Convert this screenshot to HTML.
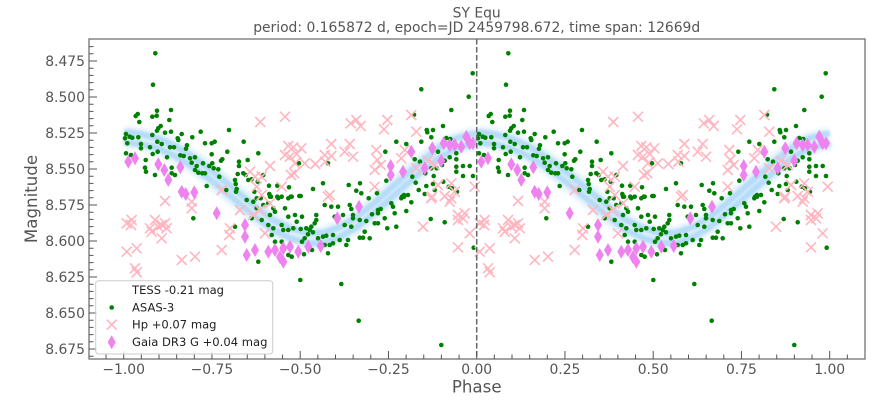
<!DOCTYPE html>
<html><head><meta charset="utf-8"><style>html,body{margin:0;padding:0;background:#fff}svg{display:block}</style></head><body>
<svg width="889" height="406" viewBox="0 0 889 406" xmlns="http://www.w3.org/2000/svg" font-family="'DejaVu Sans','Liberation Sans',sans-serif">
<defs>
<filter id="b1" x="-10%" y="-20%" width="120%" height="140%"><feGaussianBlur stdDeviation="2.2"/></filter>
<filter id="b2" x="-10%" y="-20%" width="120%" height="140%"><feGaussianBlur stdDeviation="1.1"/></filter>
<path id="c" d="M-5-5l10 10m0-10l-10 10" fill="none" stroke="#ffb6c1" stroke-width="1.6"/>
<path id="dm" d="M0-7l4 7-4 7-4-7z" fill="#ee82ee"/>
<g id="L">
 <g fill="none" stroke-linejoin="round">
  <polyline filter="url(#b1)" stroke="#d3eafb" stroke-opacity="0.7" stroke-width="22" points="124,137 140,139 157,143 175,151 190,160 207,172 223,185 240,199 257,213 273,225 290,233 307,238 323,238 340,232 357,222 373,209 390,194 407,179 423,165 440,152 457,143 477,138"/>
  <polyline filter="url(#b2)" transform="translate(0,-5)" stroke="#a3d3f6" stroke-opacity="0.7" stroke-width="6" points="124,137 140,139 157,143 175,151 190,160 207,172 223,185 240,199 257,213 273,225 290,233 307,238 323,238 340,232 357,222 373,209 390,194 407,179 423,165 440,152 457,143 477,138"/>
  <polyline filter="url(#b2)" transform="translate(0,5)" stroke="#a3d3f6" stroke-opacity="0.7" stroke-width="6" points="124,137 140,139 157,143 175,151 190,160 207,172 223,185 240,199 257,213 273,225 290,233 307,238 323,238 340,232 357,222 373,209 390,194 407,179 423,165 440,152 457,143 477,138"/>
 </g>
 <g fill="#008000">
  <circle cx="155.3" cy="53.3" r="2.3"/><circle cx="153" cy="84.7" r="2.3"/><circle cx="137.7" cy="114" r="2.3"/><circle cx="135.7" cy="116" r="2.3"/><circle cx="139.3" cy="122" r="2.3"/><circle cx="157" cy="110.7" r="2.3"/><circle cx="152.3" cy="116.7" r="2.3"/><circle cx="156.7" cy="115.7" r="2.3"/><circle cx="171" cy="110" r="2.3"/><circle cx="169.3" cy="120" r="2.3"/><circle cx="160.7" cy="126" r="2.3"/><circle cx="158.3" cy="128.3" r="2.3"/><circle cx="157" cy="130.7" r="2.3"/><circle cx="165" cy="132.7" r="2.3"/><circle cx="171" cy="131.7" r="2.3"/><circle cx="152.3" cy="135" r="2.3"/><circle cx="126" cy="134" r="2.3"/><circle cx="129.7" cy="136.7" r="2.3"/><circle cx="125" cy="138.3" r="2.3"/><circle cx="132.3" cy="137.7" r="2.3"/><circle cx="138.3" cy="137.3" r="2.3"/><circle cx="127.3" cy="143.3" r="2.3"/><circle cx="141" cy="144" r="2.3"/><circle cx="141" cy="148.3" r="2.3"/><circle cx="150" cy="147.3" r="2.3"/><circle cx="157.3" cy="141.7" r="2.3"/><circle cx="161.7" cy="144" r="2.3"/><circle cx="157.7" cy="151.7" r="2.3"/><circle cx="152.7" cy="154" r="2.3"/><circle cx="170" cy="147.3" r="2.3"/><circle cx="174" cy="147.3" r="2.3"/><circle cx="177.7" cy="138.3" r="2.3"/><circle cx="178.3" cy="140" r="2.3"/><circle cx="181.7" cy="134" r="2.3"/><circle cx="192.3" cy="137.3" r="2.3"/><circle cx="200.7" cy="131.7" r="2.3"/><circle cx="229" cy="130" r="2.3"/><circle cx="205" cy="143.3" r="2.3"/><circle cx="211.7" cy="143.3" r="2.3"/><circle cx="214.7" cy="141.7" r="2.3"/><circle cx="187" cy="145.3" r="2.3"/><circle cx="186" cy="148.7" r="2.3"/><circle cx="126" cy="153.3" r="2.3"/><circle cx="131" cy="155" r="2.3"/><circle cx="167" cy="157.3" r="2.3"/><circle cx="145.7" cy="160" r="2.3"/><circle cx="145" cy="167.7" r="2.3"/><circle cx="146" cy="171.7" r="2.3"/><circle cx="155" cy="175" r="2.3"/><circle cx="171.7" cy="167.7" r="2.3"/><circle cx="171.7" cy="173.3" r="2.3"/><circle cx="175" cy="175" r="2.3"/><circle cx="180.3" cy="155.3" r="2.3"/><circle cx="183.7" cy="156" r="2.3"/><circle cx="190" cy="158.3" r="2.3"/><circle cx="191.7" cy="162.7" r="2.3"/><circle cx="195" cy="157.3" r="2.3"/><circle cx="203" cy="163.3" r="2.3"/><circle cx="196.7" cy="166" r="2.3"/><circle cx="195" cy="170" r="2.3"/><circle cx="198.3" cy="172.7" r="2.3"/><circle cx="202.3" cy="173.3" r="2.3"/><circle cx="205" cy="173.3" r="2.3"/><circle cx="211.7" cy="154.3" r="2.3"/><circle cx="212.3" cy="163.3" r="2.3"/><circle cx="209.3" cy="166" r="2.3"/><circle cx="213.7" cy="168.3" r="2.3"/><circle cx="222.3" cy="159.3" r="2.3"/><circle cx="221" cy="160.7" r="2.3"/><circle cx="218.3" cy="169.3" r="2.3"/><circle cx="219.3" cy="176.7" r="2.3"/><circle cx="227.3" cy="151.7" r="2.3"/><circle cx="243.7" cy="141.7" r="2.3"/><circle cx="258.3" cy="153.3" r="2.3"/><circle cx="247.7" cy="160" r="2.3"/><circle cx="239" cy="161.7" r="2.3"/><circle cx="239" cy="166" r="2.3"/><circle cx="237.7" cy="174" r="2.3"/><circle cx="243.3" cy="173.3" r="2.3"/><circle cx="245.7" cy="175" r="2.3"/><circle cx="206.7" cy="186" r="2.3"/><circle cx="226.3" cy="190" r="2.3"/><circle cx="235" cy="180" r="2.3"/><circle cx="235.7" cy="184" r="2.3"/><circle cx="236.7" cy="189" r="2.3"/><circle cx="236" cy="191.7" r="2.3"/><circle cx="257.7" cy="181.7" r="2.3"/><circle cx="263.3" cy="175" r="2.3"/><circle cx="269" cy="185.7" r="2.3"/><circle cx="277.3" cy="185.7" r="2.3"/><circle cx="269.3" cy="194" r="2.3"/><circle cx="271" cy="196.7" r="2.3"/><circle cx="277.3" cy="196.7" r="2.3"/><circle cx="281.7" cy="196.7" r="2.3"/><circle cx="289" cy="187.3" r="2.3"/><circle cx="290.7" cy="196.7" r="2.3"/><circle cx="299.3" cy="196" r="2.3"/><circle cx="254.3" cy="191.7" r="2.3"/><circle cx="256.7" cy="198.3" r="2.3"/><circle cx="260.7" cy="198.3" r="2.3"/><circle cx="248.3" cy="180" r="2.3"/><circle cx="251.7" cy="179.3" r="2.3"/>
  <circle cx="472.7" cy="73.3" r="2.3"/><circle cx="468.7" cy="96.7" r="2.3"/><circle cx="421.3" cy="89.3" r="2.3"/><circle cx="451.3" cy="110" r="2.3"/><circle cx="414" cy="114.7" r="2.3"/><circle cx="426.7" cy="130" r="2.3"/><circle cx="427.3" cy="132.3" r="2.3"/><circle cx="433" cy="130" r="2.3"/><circle cx="431.3" cy="137.3" r="2.3"/><circle cx="443" cy="126" r="2.3"/><circle cx="446.3" cy="138" r="2.3"/><circle cx="450.3" cy="139" r="2.3"/><circle cx="396.3" cy="141.7" r="2.3"/><circle cx="406.3" cy="144" r="2.3"/><circle cx="421.3" cy="141.7" r="2.3"/><circle cx="385.3" cy="151.7" r="2.3"/><circle cx="414.7" cy="159.3" r="2.3"/><circle cx="420" cy="161.7" r="2.3"/><circle cx="438" cy="151.7" r="2.3"/><circle cx="449.7" cy="157.3" r="2.3"/><circle cx="456.3" cy="153.3" r="2.3"/><circle cx="456.3" cy="159.3" r="2.3"/><circle cx="444.7" cy="160.7" r="2.3"/><circle cx="442" cy="165" r="2.3"/><circle cx="431.3" cy="168.3" r="2.3"/><circle cx="436.7" cy="168.3" r="2.3"/><circle cx="433.7" cy="176" r="2.3"/><circle cx="425.3" cy="173.3" r="2.3"/><circle cx="412.3" cy="176.7" r="2.3"/><circle cx="415.7" cy="182.7" r="2.3"/><circle cx="426.3" cy="186" r="2.3"/><circle cx="433" cy="184" r="2.3"/><circle cx="443.3" cy="181.7" r="2.3"/><circle cx="448.7" cy="186.7" r="2.3"/><circle cx="456.3" cy="166.7" r="2.3"/><circle cx="456.3" cy="171.7" r="2.3"/><circle cx="463" cy="166" r="2.3"/><circle cx="469.7" cy="166" r="2.3"/><circle cx="463" cy="176" r="2.3"/><circle cx="473" cy="176" r="2.3"/><circle cx="418.7" cy="190" r="2.3"/><circle cx="424.7" cy="194" r="2.3"/><circle cx="434.7" cy="190" r="2.3"/><circle cx="452" cy="188.3" r="2.3"/><circle cx="457" cy="191.7" r="2.3"/><circle cx="386.3" cy="180.7" r="2.3"/><circle cx="323" cy="183.3" r="2.3"/><circle cx="313" cy="189" r="2.3"/><circle cx="348.7" cy="185" r="2.3"/><circle cx="360" cy="183.3" r="2.3"/><circle cx="356.3" cy="190.7" r="2.3"/><circle cx="361.3" cy="193.3" r="2.3"/><circle cx="368.7" cy="198.3" r="2.3"/><circle cx="377" cy="193.3" r="2.3"/><circle cx="404" cy="195" r="2.3"/><circle cx="408" cy="195" r="2.3"/><circle cx="402" cy="196.7" r="2.3"/><circle cx="300.7" cy="196" r="2.3"/><circle cx="299" cy="163.3" r="2.3"/><circle cx="328" cy="163.3" r="2.3"/>
  <circle cx="193.3" cy="218.3" r="2.3"/><circle cx="235" cy="226.7" r="2.3"/><circle cx="246.7" cy="200" r="2.3"/><circle cx="253.3" cy="201.7" r="2.3"/><circle cx="256.7" cy="208.3" r="2.3"/><circle cx="263.3" cy="205" r="2.3"/><circle cx="268.3" cy="203.3" r="2.3"/><circle cx="270" cy="196.7" r="2.3"/><circle cx="278.3" cy="198.3" r="2.3"/><circle cx="288.3" cy="198.3" r="2.3"/><circle cx="291.7" cy="196.7" r="2.3"/><circle cx="251.7" cy="218.3" r="2.3"/><circle cx="261.7" cy="220" r="2.3"/><circle cx="270" cy="215" r="2.3"/><circle cx="273.3" cy="208.3" r="2.3"/><circle cx="275" cy="211.7" r="2.3"/><circle cx="285" cy="208.3" r="2.3"/><circle cx="288.3" cy="216.7" r="2.3"/><circle cx="295" cy="215" r="2.3"/><circle cx="268.3" cy="225" r="2.3"/><circle cx="273.3" cy="228.3" r="2.3"/><circle cx="281.7" cy="225" r="2.3"/><circle cx="283.3" cy="230" r="2.3"/><circle cx="288.3" cy="230" r="2.3"/><circle cx="293.3" cy="228.3" r="2.3"/><circle cx="296.7" cy="221.7" r="2.3"/><circle cx="271.7" cy="235" r="2.3"/><circle cx="275" cy="241.7" r="2.3"/><circle cx="281.7" cy="241.7" r="2.3"/><circle cx="288.3" cy="255" r="2.3"/><circle cx="291.7" cy="256.7" r="2.3"/><circle cx="258.3" cy="261.7" r="2.3"/><circle cx="300.3" cy="280" r="2.3"/>
  <circle cx="302" cy="216.7" r="2.3"/><circle cx="316.3" cy="215" r="2.3"/><circle cx="316.3" cy="220" r="2.3"/><circle cx="314.7" cy="223.3" r="2.3"/><circle cx="300.7" cy="229" r="2.3"/><circle cx="306.3" cy="228.3" r="2.3"/><circle cx="311.3" cy="226.7" r="2.3"/><circle cx="309.7" cy="230" r="2.3"/><circle cx="313" cy="232.3" r="2.3"/><circle cx="308" cy="234.3" r="2.3"/><circle cx="304.7" cy="238.3" r="2.3"/><circle cx="302" cy="241.7" r="2.3"/><circle cx="318" cy="238.3" r="2.3"/><circle cx="323" cy="236.7" r="2.3"/><circle cx="326.3" cy="235.7" r="2.3"/><circle cx="324.7" cy="245" r="2.3"/><circle cx="329.7" cy="245" r="2.3"/><circle cx="333" cy="235" r="2.3"/><circle cx="333" cy="243.3" r="2.3"/><circle cx="328" cy="253.3" r="2.3"/><circle cx="312" cy="250" r="2.3"/><circle cx="304" cy="254.3" r="2.3"/><circle cx="324.7" cy="205" r="2.3"/><circle cx="331.3" cy="206.7" r="2.3"/><circle cx="338" cy="206.7" r="2.3"/><circle cx="334.7" cy="216.7" r="2.3"/><circle cx="343" cy="215" r="2.3"/><circle cx="344.7" cy="225" r="2.3"/><circle cx="351.3" cy="226.7" r="2.3"/><circle cx="339.7" cy="240" r="2.3"/><circle cx="348" cy="240" r="2.3"/><circle cx="346.3" cy="245" r="2.3"/><circle cx="349.7" cy="205" r="2.3"/><circle cx="351.3" cy="209" r="2.3"/><circle cx="353" cy="215" r="2.3"/><circle cx="353" cy="218.3" r="2.3"/><circle cx="359.7" cy="220" r="2.3"/><circle cx="366.3" cy="221" r="2.3"/><circle cx="374.7" cy="223.3" r="2.3"/><circle cx="378" cy="223.3" r="2.3"/><circle cx="372" cy="214.3" r="2.3"/><circle cx="378" cy="210" r="2.3"/><circle cx="378" cy="213.3" r="2.3"/><circle cx="380.7" cy="209" r="2.3"/><circle cx="364.7" cy="231.7" r="2.3"/><circle cx="359.7" cy="237.7" r="2.3"/><circle cx="363" cy="237.7" r="2.3"/><circle cx="369.7" cy="238.3" r="2.3"/><circle cx="384.7" cy="218.3" r="2.3"/><circle cx="387.3" cy="228.3" r="2.3"/><circle cx="396.3" cy="226.7" r="2.3"/><circle cx="394.7" cy="213.3" r="2.3"/><circle cx="393" cy="206.7" r="2.3"/><circle cx="391.3" cy="203.3" r="2.3"/><circle cx="401.3" cy="198.3" r="2.3"/><circle cx="404" cy="196.7" r="2.3"/><circle cx="411.3" cy="202.3" r="2.3"/><circle cx="406.3" cy="211" r="2.3"/><circle cx="430.7" cy="219" r="2.3"/><circle cx="444.7" cy="222.3" r="2.3"/><circle cx="473.7" cy="247.7" r="2.3"/><circle cx="341.3" cy="284" r="2.3"/><circle cx="358.7" cy="320.7" r="2.3"/><circle cx="441.3" cy="345" r="2.3"/>
 </g>
 <g>
  <use href="#c" x="260.3" y="122"/><use href="#c" x="285" y="116.7"/><use href="#c" x="288.3" y="146"/><use href="#c" x="293.3" y="147.3"/><use href="#c" x="285" y="155"/><use href="#c" x="290" y="156.7"/><use href="#c" x="296.7" y="154"/><use href="#c" x="295" y="163.3"/><use href="#c" x="291" y="175"/><use href="#c" x="294.3" y="173.3"/><use href="#c" x="250" y="171.7"/><use href="#c" x="270" y="166"/><use href="#c" x="255" y="176.7"/><use href="#c" x="261.7" y="176.7"/><use href="#c" x="281.7" y="186.7"/><use href="#c" x="256.7" y="186.7"/><use href="#c" x="221.7" y="190"/><use href="#c" x="261.7" y="195"/><use href="#c" x="165" y="201"/>
  <use href="#c" x="350.7" y="123.3"/><use href="#c" x="356.3" y="120"/><use href="#c" x="360.7" y="126"/><use href="#c" x="387.3" y="120"/><use href="#c" x="384" y="129.3"/><use href="#c" x="411.3" y="115"/><use href="#c" x="416.3" y="131.7"/><use href="#c" x="301.3" y="148.3"/><use href="#c" x="331.3" y="144"/><use href="#c" x="324.7" y="155"/><use href="#c" x="331.3" y="156"/><use href="#c" x="315.3" y="164"/><use href="#c" x="325.3" y="161.7"/><use href="#c" x="344.7" y="151.7"/><use href="#c" x="349.7" y="144"/><use href="#c" x="353" y="156.7"/><use href="#c" x="376.3" y="150"/><use href="#c" x="377.3" y="160"/><use href="#c" x="374.7" y="170"/><use href="#c" x="380.7" y="165"/><use href="#c" x="404.7" y="150"/><use href="#c" x="401.3" y="158.3"/><use href="#c" x="416.3" y="168.3"/><use href="#c" x="428" y="160.7"/><use href="#c" x="434.7" y="165"/><use href="#c" x="374.7" y="186.7"/><use href="#c" x="329.7" y="195"/><use href="#c" x="438" y="185"/><use href="#c" x="451.3" y="183.3"/><use href="#c" x="454.7" y="191.7"/><use href="#c" x="432" y="196.7"/><use href="#c" x="444.7" y="196"/><use href="#c" x="474.7" y="186.7"/><use href="#c" x="304.7" y="163.3"/>
  <use href="#c" x="191.7" y="201.7"/><use href="#c" x="191.7" y="208.3"/><use href="#c" x="126.7" y="223.3"/><use href="#c" x="131.7" y="220"/><use href="#c" x="131" y="225"/><use href="#c" x="150" y="228.3"/><use href="#c" x="155" y="220"/><use href="#c" x="158.3" y="226.7"/><use href="#c" x="161.7" y="225"/><use href="#c" x="165" y="223.3"/><use href="#c" x="166.7" y="228.3"/><use href="#c" x="161.7" y="238.3"/><use href="#c" x="151.7" y="231.7"/><use href="#c" x="126.7" y="251.7"/><use href="#c" x="136.7" y="248.3"/><use href="#c" x="135" y="268.3"/><use href="#c" x="136.7" y="272.3"/><use href="#c" x="181.7" y="260"/><use href="#c" x="195" y="256.7"/><use href="#c" x="221.7" y="250"/><use href="#c" x="229.3" y="235"/><use href="#c" x="230" y="228.3"/><use href="#c" x="240" y="210"/><use href="#c" x="253.3" y="215"/><use href="#c" x="260" y="210"/><use href="#c" x="270" y="203.3"/><use href="#c" x="265" y="233.3"/><use href="#c" x="423" y="226.7"/><use href="#c" x="431.3" y="198.3"/><use href="#c" x="449.7" y="201.7"/><use href="#c" x="451.3" y="198.3"/><use href="#c" x="458" y="215"/><use href="#c" x="463" y="218.3"/><use href="#c" x="464.7" y="213.3"/><use href="#c" x="458" y="220"/><use href="#c" x="469.7" y="233.3"/><use href="#c" x="458" y="247.3"/><use href="#c" x="328" y="196.7"/>
 </g>
 <g>
  <use href="#dm" x="128.3" y="161.7"/><use href="#dm" x="135" y="158.3"/><use href="#dm" x="158.3" y="164.3"/><use href="#dm" x="164.3" y="170"/><use href="#dm" x="168.3" y="180"/><use href="#dm" x="180.3" y="167.3"/><use href="#dm" x="181.7" y="191.7"/><use href="#dm" x="185.7" y="194"/><use href="#dm" x="194.3" y="192.3"/><use href="#dm" x="216.7" y="213.3"/><use href="#dm" x="245" y="225"/><use href="#dm" x="245" y="236.7"/>
  <use href="#dm" x="246.7" y="255"/><use href="#dm" x="255" y="250"/><use href="#dm" x="268.3" y="251.7"/><use href="#dm" x="275" y="250"/><use href="#dm" x="280" y="257"/><use href="#dm" x="283.3" y="261.7"/><use href="#dm" x="283.3" y="248.3"/><use href="#dm" x="290" y="246.7"/><use href="#dm" x="298.3" y="251.7"/><use href="#dm" x="308.3" y="246.7"/><use href="#dm" x="320.7" y="246"/><use href="#dm" x="337.3" y="218.3"/><use href="#dm" x="359" y="206.7"/>
  <use href="#dm" x="390.7" y="166"/><use href="#dm" x="390.7" y="175"/><use href="#dm" x="403" y="171.7"/><use href="#dm" x="411.3" y="151.7"/><use href="#dm" x="424.7" y="168.3"/><use href="#dm" x="432.3" y="148.3"/><use href="#dm" x="441.3" y="160.7"/><use href="#dm" x="443.7" y="143.3"/><use href="#dm" x="449.7" y="145"/><use href="#dm" x="454.7" y="145"/><use href="#dm" x="461.3" y="146.7"/><use href="#dm" x="466.3" y="136.7"/><use href="#dm" x="469.7" y="143.3"/><use href="#dm" x="473" y="143.3"/>
 </g>
</g>
</defs>
<rect width="889" height="406" fill="#fff"/>
<use href="#L"/>
<use href="#L" transform="translate(353,0)"/>
<line x1="476.7" y1="39" x2="476.7" y2="359" stroke="#666" stroke-width="1.5" stroke-dasharray="5.5,2.5"/>
<rect x="89" y="39" width="776" height="320" fill="none" stroke="#666" stroke-width="1.2"/>
<g stroke="#555" stroke-width="1">
 <path d="M89 61h8M89 97h8M89 133h8M89 169h8M89 205h8M89 241h8M89 277h8M89 313h8M89 349h8"/>
 <path d="M89 46.6h4.5M89 53.8h4.5M89 68.2h4.5M89 75.4h4.5M89 82.6h4.5M89 89.8h4.5M89 104.2h4.5M89 111.4h4.5M89 118.6h4.5M89 125.8h4.5M89 140.2h4.5M89 147.4h4.5M89 154.6h4.5M89 161.8h4.5M89 176.2h4.5M89 183.4h4.5M89 190.6h4.5M89 197.8h4.5M89 212.2h4.5M89 219.4h4.5M89 226.6h4.5M89 233.8h4.5M89 248.2h4.5M89 255.4h4.5M89 262.6h4.5M89 269.8h4.5M89 284.2h4.5M89 291.4h4.5M89 298.6h4.5M89 305.8h4.5M89 320.2h4.5M89 327.4h4.5M89 334.6h4.5M89 341.8h4.5M89 356.2h4.5"/>
 <path d="M123.7 359v-8M211.95 359v-8M300.2 359v-8M388.45 359v-8M476.7 359v-8M564.95 359v-8M653.2 359v-8M741.45 359v-8M829.7 359v-8"/>
 <path d="M106.05 359v-4.5M141.35 359v-4.5M159 359v-4.5M176.65 359v-4.5M194.3 359v-4.5M229.6 359v-4.5M247.25 359v-4.5M264.9 359v-4.5M282.55 359v-4.5M317.85 359v-4.5M335.5 359v-4.5M353.15 359v-4.5M370.8 359v-4.5M406.1 359v-4.5M423.75 359v-4.5M441.4 359v-4.5M459.05 359v-4.5M494.35 359v-4.5M512 359v-4.5M529.65 359v-4.5M547.3 359v-4.5M582.6 359v-4.5M600.25 359v-4.5M617.9 359v-4.5M635.55 359v-4.5M670.85 359v-4.5M688.5 359v-4.5M706.15 359v-4.5M723.8 359v-4.5M759.1 359v-4.5M776.75 359v-4.5M794.4 359v-4.5M812.05 359v-4.5M847.35 359v-4.5"/>
</g>
<g fill="#555" font-size="13.9" text-anchor="end">
 <text x="85" y="66">8.475</text><text x="85" y="102">8.500</text><text x="85" y="138">8.525</text><text x="85" y="174">8.550</text><text x="85" y="210">8.575</text><text x="85" y="246">8.600</text><text x="85" y="282">8.625</text><text x="85" y="318">8.650</text><text x="85" y="354">8.675</text>
</g>
<g fill="#555" font-size="13.9" text-anchor="middle">
 <text x="123.7" y="374">−1.00</text><text x="211.95" y="374">−0.75</text><text x="300.2" y="374">−0.50</text><text x="388.45" y="374">−0.25</text><text x="476.7" y="374">0.00</text><text x="564.95" y="374">0.25</text><text x="653.2" y="374">0.50</text><text x="741.45" y="374">0.75</text><text x="829.7" y="374">1.00</text>
 <text x="476.7" y="17.4">SY Equ</text>
 <text x="476.7" y="31.8" textLength="447" lengthAdjust="spacingAndGlyphs">period: 0.165872 d, epoch=JD 2459798.672, time span: 12669d</text>
 <text x="476.7" y="392.5" font-size="16.67">Phase</text>
 <text transform="translate(37,199) rotate(-90)" font-size="16.67">Magnitude</text>
</g>
<rect x="95.7" y="280.7" width="177" height="73.3" rx="3" fill="#fff" fill-opacity="0.8" stroke="#cccccc" stroke-width="1"/>
<circle cx="111.7" cy="307.5" r="2.3" fill="#008000"/>
<use href="#c" x="111.7" y="324.7"/>
<use href="#dm" x="111.7" y="342.3"/>
<g fill="#222" font-size="11.57">
 <text x="132" y="294.2">TESS -0.21 mag</text>
 <text x="132" y="311.4">ASAS-3</text>
 <text x="132" y="328.6">Hp +0.07 mag</text>
 <text x="132" y="345.8">Gaia DR3 G +0.04 mag</text>
</g>
</svg>
</body></html>
